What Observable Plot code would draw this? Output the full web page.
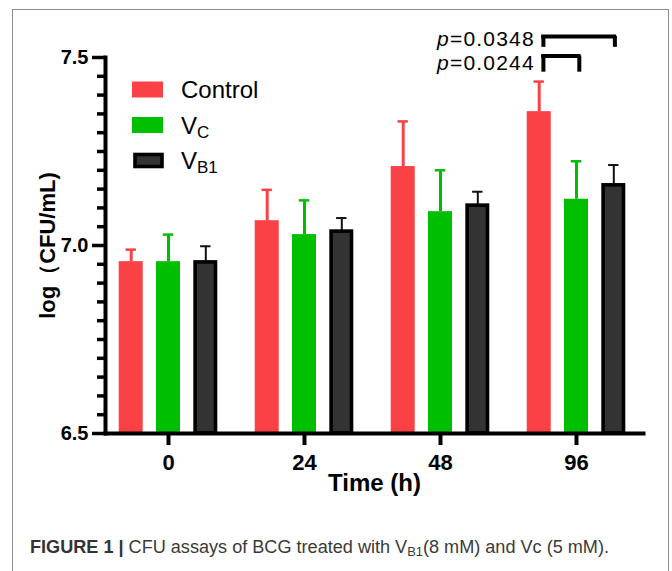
<!DOCTYPE html>
<html><head><meta charset="utf-8">
<script src="https://cdn.jsdelivr.net/npm/d3@7"></script>
<script src="https://cdn.jsdelivr.net/npm/@observablehq/plot@0.6"></script>
<style>
html,body{margin:0;padding:0;background:#fff;}
#wrap{position:relative;width:672px;height:571px;overflow:hidden;font-family:"Liberation Sans",Arial,Helvetica,sans-serif;}
#border{position:absolute;left:12px;top:9px;width:657px;height:620px;border:1.5px solid #8c8c8c;box-sizing:border-box;}
#chart{position:absolute;left:0;top:0;}
#chart g[aria-label$="tick label"]{font-weight:bold;font-size:20px;font-family:"Liberation Sans",Arial,sans-serif;}
#chart g[aria-label="x-axis tick label"]{font-size:22px;}
#overlay{position:absolute;left:0;top:0;pointer-events:none;}
#caption{position:absolute;left:30px;top:537px;font-family:"Liberation Sans",Arial,sans-serif;font-size:17.5px;color:#3a3a3a;white-space:nowrap;transform-origin:0 50%;}
#caption b{color:#333;}
#caption sub{font-size:12.5px;vertical-align:-3px;line-height:0;}
</style>
</head><body>
<div id="wrap">
  <div id="border"></div>
  <div id="chart"></div>
  <svg id="overlay" width="672" height="571"></svg>
  <div id="caption"><b>FIGURE 1 |</b> CFU assays of BCG treated with V<sub>B1</sub>(8 mM) and Vc (5 mM).</div>
</div>
<script>
// ---- data ----
const times = ["0", "24", "48", "96"];
const seriesNames = ["Control", "VC", "VB1"];
const controlMean = [6.957, 7.066, 7.210, 7.356];
const controlSD   = [0.032, 0.082, 0.120, 0.080];
const vcMean      = [6.957, 7.029, 7.090, 7.123];
const vcSD        = [0.072, 0.091, 0.110, 0.101];
const vb1Mean     = [6.955, 7.037, 7.106, 7.160];
const vb1SD       = [0.043, 0.036, 0.037, 0.054];
const yMajorTicks = [6.5, 7.0, 7.5];
const bracketTime = ["96", "96"];
const bracketLabels = ["p=0.0348", "p=0.0244"];
const bracketTop  = [7.556, 7.504];
const bracketFoot = [7.527, 7.461];

// ---- styling ----
const colors = {Control: "#FA4145", VC: "#00BE00", VB1: "#333333"};
const offsets = {Control: -37.3, VC: 0, VB1: 37.3};
const means = {Control: controlMean, VC: vcMean, VB1: vb1Mean};
const sds = {Control: controlSD, VC: vcSD, VB1: vb1SD};
const FONT = "Liberation Sans, Arial, Helvetica, sans-serif";

const marks = [];
for (const s of seriesNames) {
  const rows = times.map((t, i) => ({time: t, mean: means[s][i], sd: sds[s][i]}));
  const isB = s === "VB1";
  const eColor = isB ? "#111" : colors[s];
  const eW = isB ? 2 : 3;
  marks.push(Plot.ruleX(rows, {x: "time", y1: "mean", y2: d => d.mean + d.sd, stroke: eColor, strokeWidth: eW, dx: offsets[s]}));
  marks.push(Plot.tickY(rows, {x: "time", y: d => d.mean + d.sd, stroke: eColor, strokeWidth: isB ? 2 : 2.5, dx: offsets[s], insetLeft: 6.8, insetRight: 6.8}));
  if (isB) {
    marks.push(Plot.barY(rows, {x: "time", y1: 6.5, y2: "mean", fill: colors[s], stroke: "#000", strokeWidth: 3.6, dx: offsets[s], insetLeft: 1.8, insetRight: 1.8}));
  } else {
    marks.push(Plot.barY(rows, {x: "time", y1: 6.5, y2: "mean", fill: colors[s], dx: offsets[s]}));
  }
}

const brackets = bracketTime.map((t, i) => ({time: t, label: bracketLabels[i], top: bracketTop[i], foot: bracketFoot[i]}));
// horizontal bars of the brackets
marks.push(Plot.ruleY([brackets[0]], {x1: "time", x2: "time", y: "top", stroke: "#000", strokeWidth: 4, insetLeft: -22.85, insetRight: -28.15}));
marks.push(Plot.ruleY([brackets[1]], {x1: "time", x2: "time", y: "top", stroke: "#000", strokeWidth: 4, insetLeft: -22.85, insetRight: 7.45}));
// legs
marks.push(Plot.ruleX(brackets, {x: "time", y1: "foot", y2: "top", stroke: "#000", strokeWidth: 4, dx: -33.1}));
marks.push(Plot.ruleX([brackets[0]], {x: "time", y1: "foot", y2: "top", stroke: "#000", strokeWidth: 4, dx: 38.4}));
marks.push(Plot.ruleX([brackets[1]], {x: "time", y1: "foot", y2: "top", stroke: "#000", strokeWidth: 4, dx: 2.8}));

const minorTicks = d3.ticks(6.5, 7.5, 20).filter(v => !yMajorTicks.some(m => Math.abs(m - v) < 1e-9));

const chart = Plot.plot({
  width: 672,
  height: 500,
  marginLeft: 105,
  marginRight: 29,
  marginTop: 57,
  marginBottom: 67,
  style: {fontFamily: FONT, color: "#000", background: "transparent", overflow: "visible"},
  x: {type: "band", domain: times, paddingInner: 0.82, paddingOuter: 0.378, align: 0.488, axis: null},
  y: {domain: [6.5, 7.5], axis: null},
  marks: [
    ...marks,
    Plot.axisY(minorTicks, {tickSize: 8, strokeWidth: 3.5, tickFormat: () => "", label: null}),
    Plot.axisY(yMajorTicks, {tickSize: 13, strokeWidth: 3.5, tickPadding: 4, fontSize: 20, fontWeight: "bold", tickFormat: d3.format(".1f"), label: null}),
    Plot.axisX({tickSize: 12, strokeWidth: 4, tickPadding: 9, fontSize: 22, fontWeight: "bold", label: null}),
    Plot.frame({anchor: "left", strokeWidth: 4}),
    Plot.frame({anchor: "bottom", strokeWidth: 4}),
    Plot.text(["Time (h)"], {frameAnchor: "bottom", dy: 57, fontSize: 24, fontWeight: "bold"}),
    Plot.text(["log（CFU/mL)"], {frameAnchor: "left", textAnchor: "middle", dx: -58, rotate: -90, fontSize: 22, fontWeight: "bold"})
  ]
});
document.getElementById("chart").appendChild(chart);

// ---- overlay: legend and p-value labels (positions derived from the Plot scales) ----
const ns = "http://www.w3.org/2000/svg";
const ov = document.getElementById("overlay");
function el(tag, attrs, parent) {
  const e = document.createElementNS(ns, tag);
  for (const k in attrs) e.setAttribute(k, attrs[k]);
  (parent || ov).appendChild(e);
  return e;
}
const xs = chart.scale("x"), ys = chart.scale("y");
brackets.forEach((b, i) => {
  const xLeft = xs.apply(b.time) + xs.bandwidth / 2 - 33.1 - 2 - 6;
  const t = el("text", {x: xLeft, y: ys.apply(b.top) + (i === 0 ? 10 : 14.5), "text-anchor": "end", "font-size": 21, "letter-spacing": 1.2, "font-family": FONT, fill: "#000"});
  const p = el("tspan", {"font-style": "italic"}, t); p.textContent = b.label.slice(0, 1);
  const r = el("tspan", {}, t); r.textContent = b.label.slice(1);
});

// legend
const legendLabels = {Control: ["Control", ""], VC: ["V", "C"], VB1: ["V", "B1"]};
seriesNames.forEach((s, i) => {
  const cy = 89.5 + i * 35.5;
  if (s === "VB1") {
    el("rect", {x: 135, y: cy - 6, width: 27, height: 12, fill: colors[s], stroke: "#000", "stroke-width": 3.6});
  } else {
    el("rect", {x: 132, y: cy - 8, width: 31, height: 16, fill: colors[s]});
  }
  const t = el("text", {x: 181, y: cy + 8.5, "font-size": 24, "font-family": FONT, fill: "#000"});
  const a = el("tspan", {}, t); a.textContent = legendLabels[s][0];
  if (legendLabels[s][1]) {
    const b = el("tspan", {"font-size": 17, dy: 4}, t); b.textContent = legendLabels[s][1];
  }
});

// caption: condensed to the reference width
const cap = document.getElementById("caption");
const w = cap.getBoundingClientRect().width;
cap.style.transform = `scaleX(${579 / w})`;
</script>
</body></html>
